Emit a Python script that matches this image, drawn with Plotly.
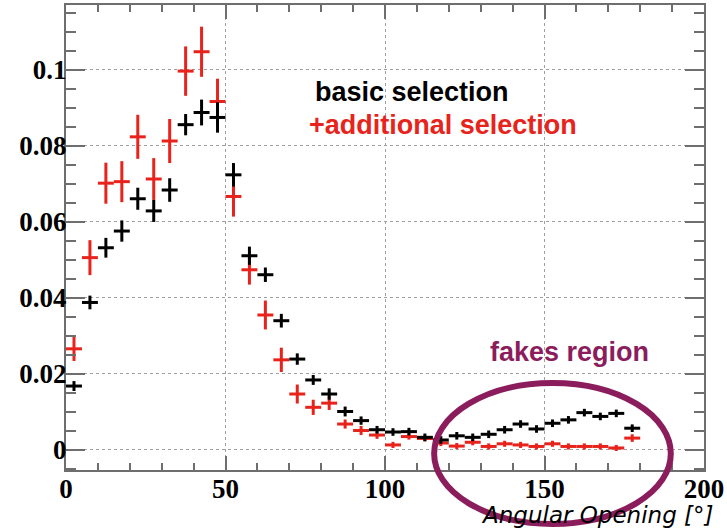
import plotly.graph_objects as go

# Bin centres (5 degree bins)
angle = [2.5 + 5 * i for i in range(36)]
bin_half_width = 2.5

basic = [0.0168, 0.0388, 0.0532, 0.0576, 0.0661, 0.0629, 0.0684, 0.0856, 0.0888, 0.0875,
         0.0724, 0.0511, 0.0461, 0.0340, 0.0239, 0.0184, 0.0147, 0.0101, 0.0077, 0.0053,
         0.0047, 0.0048, 0.0033, 0.0026, 0.0037, 0.0033, 0.0041, 0.0053, 0.0068, 0.0055,
         0.0070, 0.0079, 0.0098, 0.0088, 0.0096, 0.0057]
basic_err = [0.0013, 0.0018, 0.0026, 0.0028, 0.0029, 0.0029, 0.0031, 0.0028, 0.0034, 0.0040,
             0.0031, 0.0024, 0.0019, 0.0018, 0.0015, 0.0013, 0.0015, 0.0013, 0.0011, 0.0010,
             0.0010, 0.0010, 0.0010, 0.0010, 0.0010, 0.0010, 0.0010, 0.0010, 0.0010, 0.0010,
             0.0010, 0.0010, 0.0010, 0.0010, 0.0010, 0.0010]

additional = [0.0266, 0.0506, 0.0702, 0.0706, 0.0824, 0.0713, 0.0813, 0.0997, 0.1048, 0.0917,
              0.0667, 0.0474, 0.0355, 0.0237, 0.0147, 0.0112, 0.0123, 0.0068, 0.0051, 0.0039,
              0.0013, 0.0035, 0.0030, 0.0018, 0.0010, 0.0020, 0.0009, 0.0016, 0.0013, 0.0009,
              0.0016, 0.0009, 0.0009, 0.0009, 0.0005, 0.0031]
additional_err = [0.0032, 0.0046, 0.0054, 0.0054, 0.0058, 0.0055, 0.0058, 0.0065, 0.0066, 0.0060,
                  0.0053, 0.0039, 0.0038, 0.0032, 0.0025, 0.0020, 0.0018, 0.0012, 0.0012, 0.0010,
                  0.0008, 0.0008, 0.0008, 0.0008, 0.0008, 0.0008, 0.0008, 0.0008, 0.0008, 0.0008,
                  0.0008, 0.0008, 0.0008, 0.0008, 0.0008, 0.0010]

RED = "#e8231b"
PURPLE = "#8c1d5c"
AXIS = "#6e6e6e"

fig = go.Figure()

def add_series(y, err, color):
    fig.add_trace(go.Scatter(
        x=angle, y=y, mode="markers",
        marker=dict(size=1, color=color),
        error_x=dict(type="constant", value=bin_half_width, thickness=3, width=0, color=color),
        error_y=dict(type="data", array=err, thickness=3, width=0, color=color),
        showlegend=False, hoverinfo="skip",
    ))

add_series(additional, additional_err, RED)
add_series(basic, basic_err, "#000000")

tickfont = dict(family="Liberation Serif", size=27, color="#000000", weight="bold")

fig.update_xaxes(
    range=[0, 200], tick0=0, dtick=50, automargin=False,
    showline=True, linecolor=AXIS, linewidth=2, mirror="allticks",
    ticks="inside", ticklen=14, tickwidth=2, tickcolor=AXIS,
    minor=dict(ticks="inside", dtick=10, ticklen=7, tickwidth=2, tickcolor=AXIS, showgrid=False),
    showgrid=True, gridcolor="#a0a0a0", gridwidth=1, griddash="dot",
    zeroline=False, tickfont=tickfont, ticklabelstandoff=-6,
)
fig.update_yaxes(
    range=[-0.0053, 0.1171], tick0=0, dtick=0.02, automargin=False,
    showline=True, linecolor=AXIS, linewidth=2, mirror="allticks",
    ticks="inside", ticklen=19, tickwidth=2, tickcolor=AXIS,
    minor=dict(ticks="inside", dtick=0.005, ticklen=10, tickwidth=2, tickcolor=AXIS, showgrid=False),
    showgrid=True, gridcolor="#a0a0a0", gridwidth=1, griddash="dot",
    zeroline=False, tickfont=tickfont, ticklabelstandoff=-8,
)

# Ellipse marking the fakes region (extends below the frame)
fig.add_shape(type="circle", xref="paper", yref="paper",
              x0=0.577, x1=0.948, y0=-0.116, y1=0.187,
              line=dict(color=PURPLE, width=6), layer="above")

fig.add_annotation(text="basic selection", xref="paper", yref="paper",
                   x=0.387, y=0.813, xanchor="left", yanchor="middle", showarrow=False,
                   font=dict(family="Liberation Sans", size=27, color="#000000", weight="bold"))
fig.add_annotation(text="+additional selection", xref="paper", yref="paper",
                   x=0.378, y=0.742, xanchor="left", yanchor="middle", showarrow=False,
                   font=dict(family="Liberation Sans", size=27, color=RED, weight="bold"))
fig.add_annotation(text="fakes region", xref="paper", yref="paper",
                   x=0.789, y=0.254, xanchor="center", yanchor="middle", showarrow=False,
                   font=dict(family="Liberation Sans", size=27, color=PURPLE, weight="bold"))
fig.add_annotation(text="Angular Opening [°]", xref="paper", yref="paper",
                   x=1.019, y=-0.097, xanchor="right", yanchor="middle", showarrow=False,
                   font=dict(family="DejaVu Sans", size=23, color="#000000", style="italic"))

fig.update_layout(
    width=727, height=532,
    margin=dict(l=66, r=23, t=5, b=62, autoexpand=False),
    plot_bgcolor="white", paper_bgcolor="white",
)

fig.write_html("out.html", config={"displayModeBar": False},
               post_script="document.body.style.margin='0';")
